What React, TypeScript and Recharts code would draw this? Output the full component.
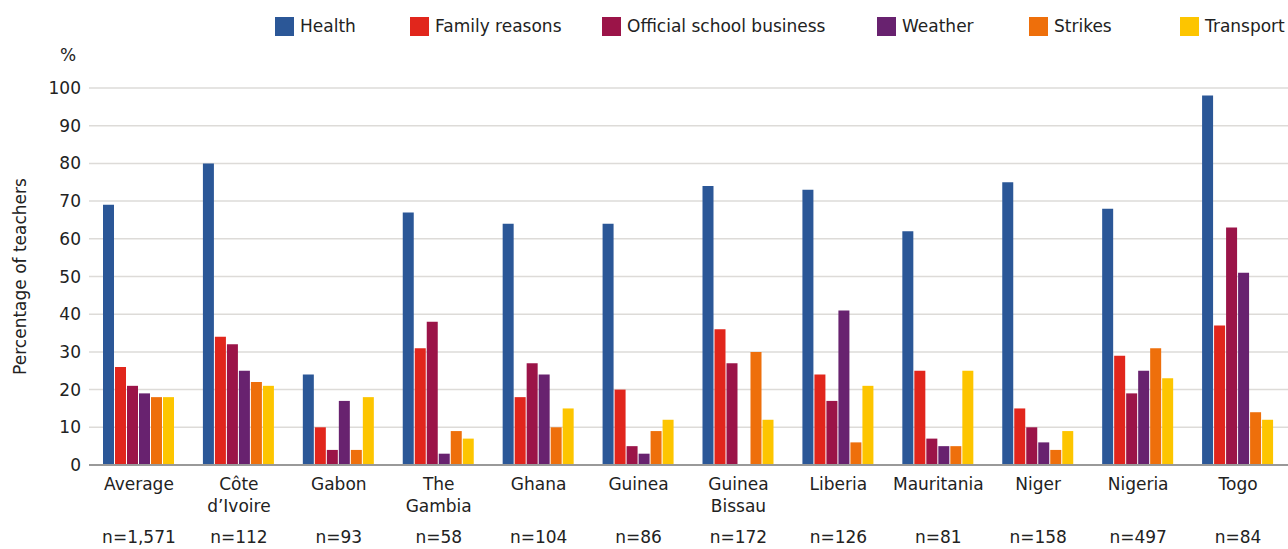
import React from 'react';
import { BarChart, Bar, XAxis, YAxis, CartesianGrid } from 'recharts';

const categories = ['Average', 'Côte\nd’Ivoire', 'Gabon', 'The\nGambia', 'Ghana', 'Guinea', 'Guinea\nBissau', 'Liberia', 'Mauritania', 'Niger', 'Nigeria', 'Togo'];
const sampleLabels = ['n=1,571', 'n=112', 'n=93', 'n=58', 'n=104', 'n=86', 'n=172', 'n=126', 'n=81', 'n=158', 'n=497', 'n=84'];
const health = [69, 80, 24, 67, 64, 64, 74, 73, 62, 75, 68, 98];
const family = [26, 34, 10, 31, 18, 20, 36, 24, 25, 15, 29, 37];
const official = [21, 32, 4, 38, 27, 5, 27, 17, 7, 10, 19, 63];
const weather = [19, 25, 17, 3, 24, 3, 0, 41, 5, 6, 25, 51];
const strikes = [18, 22, 4, 9, 10, 9, 30, 6, 5, 4, 31, 14];
const transport = [18, 21, 18, 7, 15, 12, 12, 21, 25, 9, 23, 12];
const yTicks = [0, 10, 20, 30, 40, 50, 60, 70, 80, 90, 100];

const seriesNames = ['Health', 'Family reasons', 'Official school business', 'Weather', 'Strikes', 'Transport'];
const seriesKeys = ['health', 'family', 'official', 'weather', 'strikes', 'transport'];
const seriesColors = ['#2B5797', '#E1261C', '#9B1448', '#68226F', '#EE6F0B', '#FDC500'];
const legendX = [275, 410, 602, 877, 1029, 1180];

const data = categories.map((c, i) => ({
  name: c,
  n: sampleLabels[i],
  health: health[i],
  family: family[i],
  official: official[i],
  weather: weather[i],
  strikes: strikes[i],
  transport: transport[i],
}));

const FONT = '"DejaVu Sans", sans-serif';
const TEXT = '#222';

const XTick = (props: any) => {
  const { x, y, payload, index } = props;
  const lines = String(payload.value).split('\n');
  return (
    <g>
      {lines.map((l, i) => (
        <text key={i} x={x} y={y + 17 + i * 22} textAnchor="middle" fill={TEXT} fontSize={17} fontFamily={FONT}>
          {l}
        </text>
      ))}
      <text x={x} y={y + 70} textAnchor="middle" fill={TEXT} fontSize={17} fontFamily={FONT}>
        {data[index] ? data[index].n : ''}
      </text>
    </g>
  );
};

export default function App() {
  return (
    <div style={{ position: 'absolute', left: 0, top: 0, width: 1288, height: 549, background: '#fff' }}>
      <BarChart
        width={1288}
        height={549}
        data={data}
        margin={{ top: 88, right: 0, bottom: 0, left: 0 }}
        barSize={11}
        barGap={1}
      >
        <CartesianGrid vertical={false} stroke="#dddbd8" strokeWidth={1.5} />
        <XAxis
          dataKey="name"
          interval={0}
          tickLine={false}
          axisLine={{ stroke: '#999', strokeWidth: 2 }}
          height={84}
          tick={<XTick />}
        />
        <YAxis
          domain={[0, 100]}
          ticks={yTicks}
          width={89}
          axisLine={false}
          tickLine={false}
          tick={{ fill: TEXT, fontSize: 17, fontFamily: FONT }}
          label={{ value: 'Percentage of teachers', angle: -90, position: 'insideLeft', dx: 15, style: { fill: TEXT, fontSize: 17, fontFamily: FONT, textAnchor: 'middle' } }}
        />
        {seriesKeys.map((k, i) => (
          <Bar key={k} dataKey={k} name={seriesNames[i]} fill={seriesColors[i]} isAnimationActive={false} />
        ))}
      </BarChart>
      {seriesNames.map((s, i) => (
        <div key={s} style={{ position: 'absolute', left: legendX[i], top: 17, display: 'flex', alignItems: 'center' }}>
          <div style={{ width: 19, height: 19, background: seriesColors[i] }} />
          <span style={{ marginLeft: 6, fontSize: 17, fontFamily: FONT, color: TEXT, lineHeight: '19px', whiteSpace: 'nowrap' }}>{s}</span>
        </div>
      ))}
      <div style={{ position: 'absolute', left: 60, top: 45, fontSize: 17, fontFamily: FONT, color: TEXT }}>%</div>
    </div>
  );
}
